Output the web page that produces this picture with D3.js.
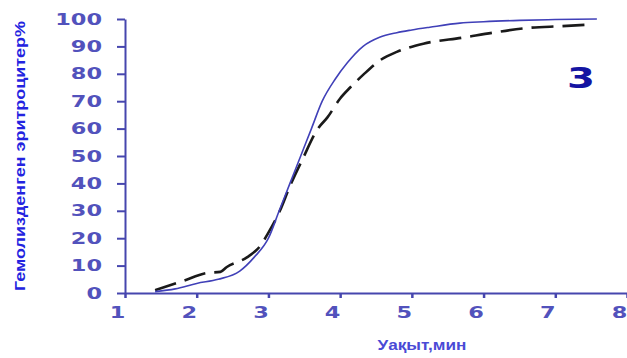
<!DOCTYPE html>
<html>
  <head>
    <meta charset="utf-8">
    <script src="https://d3js.org/d3.v7.min.js"></script>
    <style>
      body { margin: 0; background: #fff; }
    </style>
  </head>
  <body>
    <div id="chart"></div>
    <script>
      // data
      var xTicks = [1, 2, 3, 4, 5, 6, 7, 8];
      var yTicks = [0, 10, 20, 30, 40, 50, 60, 70, 80, 90, 100];

      var solidT = [1.42, 1.7, 2.0, 2.3, 2.6, 2.8, 3.0, 3.15, 3.3, 3.45, 3.6, 3.75, 3.93, 4.1, 4.32, 4.55, 4.79, 5.0, 5.25, 5.67, 6.0, 6.5, 7.0, 7.58];
      var solidV = [0.5, 1.5, 3.5, 5, 8, 13, 20, 30, 40, 50, 60, 70, 78, 84, 90, 93.3, 95, 96, 97, 98.5, 99, 99.5, 99.8, 100];

      var dashT = [1.42, 1.81, 2.14, 2.33, 2.42, 2.7, 2.88, 3.0, 3.16, 3.3, 3.47, 3.69, 3.82, 4.0, 4.14, 4.32, 4.56, 4.79, 5.16, 5.71, 6.13, 6.6, 7.1, 7.5];
      var dashV = [1, 4.4, 7.3, 7.7, 9.5, 13, 17, 22, 30, 39, 48.5, 60, 64, 71, 75, 79.6, 85, 88, 91, 93.2, 95, 96.7, 97.4, 98];

      var width = 627, height = 358;

      var svg = d3.select("#chart").append("svg")
        .attr("width", width)
        .attr("height", height);

      var x = d3.scaleLinear().domain([1, 8]).range([125, 627]);
      var y = d3.scaleLinear().domain([0, 100]).range([293, 19]);

      var axisColor = "#4646ae";
      var labelColor = "#5252bc";

      // y axis
      var gy = svg.append("g")
        .attr("transform", "translate(" + x(1) + ",0)")
        .call(d3.axisLeft(y).tickValues(yTicks).tickFormat(d3.format("d")).tickSize(8).tickSizeOuter(0).tickPadding(15));
      gy.select(".domain").attr("stroke", axisColor).attr("stroke-width", 2);
      gy.selectAll(".tick line").attr("stroke", axisColor).attr("stroke-width", 2);
      gy.selectAll(".tick text")
        .attr("fill", labelColor)
        .style("font-family", "DejaVu Sans")
        .style("font-weight", "bold")
        .style("font-size", "16px")
        .attr("textLength", function(d) { return String(d).length * 15.6; })
        .attr("lengthAdjust", "spacingAndGlyphs");

      // x axis
      var gx = svg.append("g")
        .attr("transform", "translate(0," + y(0) + ")")
        .call(d3.axisBottom(x).tickValues(xTicks).tickFormat(d3.format("d")).tickSize(5).tickSizeOuter(0).tickPadding(9));
      gx.select(".domain").attr("stroke", axisColor).attr("stroke-width", 2);
      gx.selectAll(".tick line").attr("stroke", axisColor).attr("stroke-width", 2.5);
      gx.selectAll(".tick text")
        .attr("fill", labelColor)
        .attr("dx", -8)
        .style("font-family", "DejaVu Sans")
        .style("font-weight", "bold")
        .style("font-size", "16px")
        .attr("textLength", 15.6)
        .attr("lengthAdjust", "spacingAndGlyphs");

      var line = d3.line()
        .x(function(d) { return x(d[0]); })
        .y(function(d) { return y(d[1]); })
        .curve(d3.curveMonotoneX);

      // dashed black curve
      svg.append("path")
        .datum(d3.zip(dashT, dashV))
        .attr("d", line)
        .attr("fill", "none")
        .attr("stroke", "#1a1a1a")
        .attr("stroke-width", 2.6)
        .attr("stroke-dasharray", "22,9");

      // solid blue curve
      svg.append("path")
        .datum(d3.zip(solidT, solidV))
        .attr("d", line)
        .attr("fill", "none")
        .attr("stroke", "#4040b8")
        .attr("stroke-width", 1.6);

      // curve label
      svg.append("text")
        .attr("x", 567)
        .attr("y", 88)
        .attr("fill", "#1414a2")
        .style("font-family", "DejaVu Sans")
        .style("font-weight", "bold")
        .style("font-size", "29px")
        .attr("textLength", 28)
        .attr("lengthAdjust", "spacingAndGlyphs")
        .text("3");

      // axis titles
      svg.append("text")
        .attr("transform", "translate(25,156) rotate(-90)")
        .attr("text-anchor", "middle")
        .attr("fill", "#2323e0")
        .style("font-family", "Liberation Sans")
        .style("font-weight", "bold")
        .style("font-size", "14px")
        .attr("textLength", 270)
        .attr("lengthAdjust", "spacingAndGlyphs")
        .text("Гемолизденген эритроцитер%");

      svg.append("text")
        .attr("x", 422)
        .attr("y", 350)
        .attr("text-anchor", "middle")
        .attr("fill", "#4a4ad6")
        .style("font-family", "Liberation Sans")
        .style("font-weight", "bold")
        .style("font-size", "15px")
        .attr("textLength", 89)
        .attr("lengthAdjust", "spacingAndGlyphs")
        .text("Уақыт,мин");
    </script>
  </body>
</html>
